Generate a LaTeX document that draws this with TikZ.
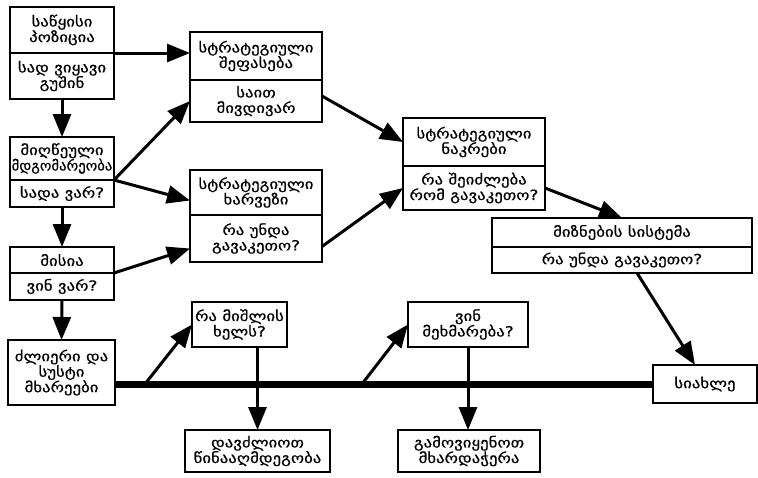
\documentclass[tikz,border=0pt]{standalone}
\usepackage{fontspec}
\newfontfamily\geo[FakeStretch=1.2,FakeBold=0.6]{DejaVu Sans}
\newfontfamily\geonarrow[FakeStretch=1.05,FakeBold=0.6]{DejaVu Sans}
\usetikzlibrary{arrows.meta,positioning}
\tikzset{>={Triangle[width=18pt,length=23pt]}, % large arrow heads
box/.style 2 args={draw, line width=2.2pt, outer sep=0pt, inner sep=1pt, minimum width=#1, minimum height=#2, align=center, font=\geo\fontsize{14}{15.5}\selectfont}, % every box
link/.style={->, line width=3pt}, % connectors
axis/.style={line width=7pt}, % the long thick line
}
\begin{document}
\begin{tikzpicture}[x=1pt,y=-1pt]
\useasboundingbox (0,0) rectangle (758,477);
% left column
\node[box={104pt}{46pt}, anchor=north west] (aT) at (10,7) {საწყისი\\პოზიცია};
\node[box={104pt}{46pt}, below=0pt of aT] (aB) {სად ვიყავი\\გუშინ};
\node[box={104pt}{43pt}, anchor=north west] (bT) at (10,137) {მიღწეული\\{\geonarrow მდგომარეობა}};
\node[box={104pt}{27pt}, below=0pt of bT] (bB) {სადა ვარ?};
\node[box={104pt}{26pt}, anchor=north west] (cT) at (10,247) {მისია};
\node[box={104pt}{27pt}, below=0pt of cT] (cB) {ვინ ვარ?};
\node[box={107pt}{65pt}, anchor=north west] (d) at (8,340) {ძლიერი და\\სუსტი\\მხარეები};
% middle
\node[box={132pt}{48pt}, anchor=north west] (eT) at (190,32) {სტრატეგიული\\შეფასება};
\node[box={132pt}{42pt}, below=0pt of eT] (eB) {საით\\მივდივარ};
\node[box={132pt}{45pt}, anchor=north west] (fT) at (190,170) {სტრატეგიული\\ხარვეზი};
\node[box={132pt}{47pt}, below=0pt of fT] (fB) {რა უნდა\\გავაკეთო?};
\node[box={142pt}{48pt}, anchor=north west] (gT) at (403,118) {სტრატეგიული\\ნაკრები};
\node[box={142pt}{44pt}, below=0pt of gT] (gB) {რა შეიძლება\\რომ გავაკეთო?};
\node[box={260pt}{29pt}, anchor=north west] (hT) at (492,218) {მიზნების სისტემა};
\node[box={260pt}{26pt}, below=0pt of hT] (hB) {რა უნდა გავაკეთო?};
% bottom
\node[box={95pt}{45pt}, anchor=north west] (i) at (192,302) {რა მიშლის\\ხელს?};
\node[box={120pt}{45pt}, anchor=north west] (j) at (408,302) {ვინ\\მეხმარება?};
\node[box={145pt}{42pt}, anchor=north west] (k) at (185,430) {დავძლიოთ\\წინააღმდეგობა};
\node[box={142pt}{42pt}, anchor=north west] (l) at (398,430) {გამოვიყენოთ\\მხარდაჭერა};
\node[box={104pt}{38pt}, anchor=north west] (m) at (653,365) {სიახლე};
% connectors
\draw[link] (aB.south) -- (bT.north);
\draw[link] (bB.south) -- (cT.north);
\draw[link] (cB.south) -- (d.north);
\draw[link] (aT.south east) -- (aT.south east -| eT.west);
\draw[link] (bT.south east) -- (eB.west);
\draw[link] (bT.south east) -- ([yshift=-8pt]fT.west);
\draw[link] (cT.south east) -- ([yshift=-10pt]fB.west);
\draw[link] ([yshift=5pt]eB.east) -- (gT.west);
\draw[link] ([yshift=-8pt]fB.east) -- (gB.west);
\draw[link] (gB.east) -- (hT.north);
\draw[link] ([xshift=15pt]hB.south) -- ([xshift=-10pt]m.north);
\draw[axis] (m.west -| d.east) -- (m.west);
\coordinate (p1) at (145,384);
\coordinate (p2) at (362,384);
\draw[link] (p1) -- (i.west);
\draw[link] (p2) -- (j.west);
\draw[link] (k.north |- i.south) -- (k.north);
\draw[link] (j.south) -- (j.south |- l.north);
\end{tikzpicture}
\end{document}
